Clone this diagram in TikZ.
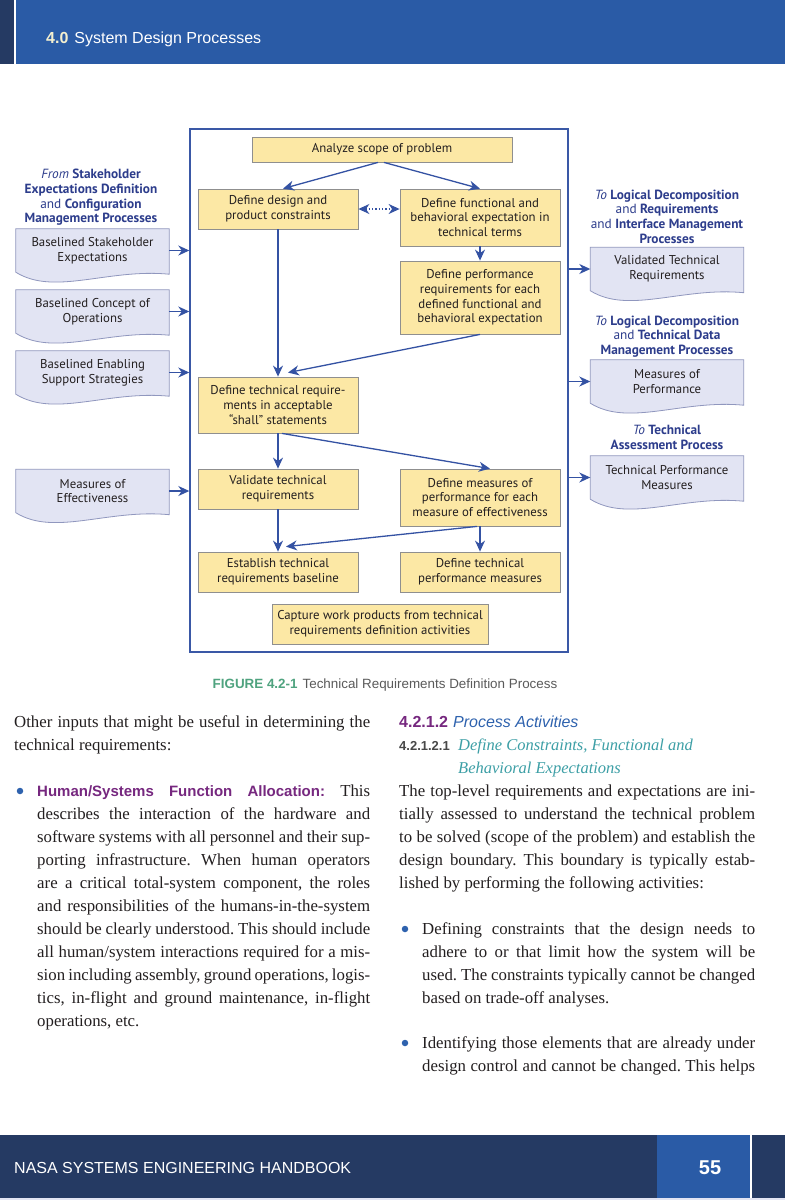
\documentclass[tikz,border=0pt]{standalone}
\usepackage{fontspec}
\setmainfont{Liberation Serif}
\setsansfont{Liberation Sans}
\newfontfamily\figfont{PT Sans}
\usetikzlibrary{arrows.meta,calc,positioning,backgrounds}
\definecolor{navy}{HTML}{253A63}
\definecolor{nasablue}{HTML}{2A5BA6}
\definecolor{boxfill}{HTML}{FCE8A5}
\definecolor{boxline}{HTML}{8F8F8F}
\definecolor{docfill}{HTML}{E2E4F3}
\definecolor{docline}{HTML}{9097BE}
\definecolor{flowblue}{HTML}{3452A3}
\definecolor{framecol}{HTML}{3A58A6}
\definecolor{headblue}{HTML}{2D3D8C}
\definecolor{purp}{HTML}{76287F}
\definecolor{secblue}{HTML}{2E62AE}
\definecolor{teal}{HTML}{3D9FA6}
\definecolor{capgreen}{HTML}{4FA37F}
\definecolor{capgrey}{HTML}{5A5A5A}
\definecolor{bodytext}{HTML}{231F20}
\newcommand{\docwave}[1]{\begin{scope}[on background layer]
\draw[fill=docfill,draw=docline,line width=0.8pt] (#1.north west) -- (#1.north east) -- ([yshift=-2pt]#1.south east)
.. controls ($(#1.south west)!0.6!(#1.south east)+(0,-4)$) and ($(#1.south west)!0.25!(#1.south east)+(0,24)$) .. (#1.south west) -- cycle;
\end{scope}}
\newcommand{\jl}[2]{\makebox[#1pt][s]{#2}}
\newcommand{\hsans}[1]{{\sffamily\bfseries\color{purp}\fontsize{15}{18}\selectfont #1}}
\frenchspacing

\begin{document}
\begin{tikzpicture}[x=1pt,y=-1pt,
procbox/.style={draw=boxline,fill=boxfill,line width=0.8pt,align=center,inner sep=0pt,text=bodytext,font=\figfont\fontsize{12.8}{14.7}\selectfont},
docbox/.style={align=center,inner sep=0pt,minimum width=153pt,minimum height=43pt,text=bodytext,font=\figfont\fontsize{12.8}{14.7}\selectfont},
srchead/.style={align=center,inner sep=0pt,text=headblue,font=\figfont\bfseries\fontsize{13.3}{14.6}\selectfont},
flow/.style={draw=flowblue,line width=1.3pt,-{Stealth[length=11pt,width=10pt,inset=3.5pt]}},
bodyline/.style={anchor=base west,inner sep=0pt,text=bodytext,font=\fontsize{16.8}{23}\selectfont},
bullet/.style={circle,fill=secblue,inner sep=0pt,minimum size=6.5pt}]
\useasboundingbox (0,0) rectangle (785,1200);
\begin{scope}[on background layer]
\fill[white] (0,0) rectangle (785,1200);
\end{scope}

% header and footer bars
\fill[navy] (0,0) rectangle (14,64);
\fill[nasablue] (16,0) rectangle (785,64);
\node[anchor=base west,inner sep=0pt,font=\sffamily\fontsize{16}{19}\selectfont,text=white] (hdr) at (46,43)
{{\bfseries\color[HTML]{F3EFCF}4.0}\hspace{6pt}System Design Processes};
\fill[navy] (0,1135) rectangle (785,1198);
\fill[nasablue] (657,1135) rectangle (750,1198);
\fill[white] (750,1135) rectangle (752,1198);
\fill[docfill] (0,1198) rectangle (785,1200);
\node[anchor=base west,inner sep=0pt,font=\sffamily\fontsize{16}{19}\selectfont,text=white] (book) at (14,1173)
{NASA SYSTEMS ENGINEERING HANDBOOK};
\node[anchor=base,inner sep=0pt,font=\sffamily\bfseries\fontsize{20}{24}\selectfont,text=white] (pagenum) at (710,1174) {55};

% figure
\node[draw=framecol,line width=1.4pt,minimum width=378pt,minimum height=523pt,inner sep=0pt] (frame) at (379,390.5) {};

\node[procbox,minimum width=260pt,minimum height=25pt] (scope) at (382,149.5) {Analyze scope of problem};
\node[procbox,minimum width=160pt,minimum height=40pt] (design) at (278,209) {Define design and\\product constraints};
\node[procbox,minimum width=160pt,minimum height=57pt] (func) at (480,217.5) {Define functional and\\behavioral expectation in\\technical terms};
\node[procbox,minimum width=160pt,minimum height=73pt] (perf) at (480,297.5) {Define performance\\requirements for each\\defined functional and\\behavioral expectation};
\node[procbox,minimum width=160pt,minimum height=56pt] (shall) at (278,405) {Define technical require-\\ments in acceptable\\“shall” statements};
\node[procbox,minimum width=160pt,minimum height=40pt] (valid) at (278,489) {Validate technical\\requirements};
\node[procbox,minimum width=160pt,minimum height=57pt] (mop) at (480,497.5) {Define measures of\\performance for each\\measure of effectiveness};
\node[procbox,minimum width=160pt,minimum height=40pt] (base) at (278,572) {Establish technical\\requirements baseline};
\node[procbox,minimum width=160pt,minimum height=40pt] (tpm) at (480,572) {Define technical\\performance measures};
\node[procbox,minimum width=216pt,minimum height=40pt] (capture) at (380,624) {Capture work products from technical\\requirements definition activities};

\draw[flow] ([xshift=-4pt]scope.south) -- ([xshift=5pt]design.north);
\draw[flow] ([xshift=2pt]scope.south) -- (func.north);
\draw[flow,dotted,{Stealth[length=11pt,width=10pt,inset=3.5pt]}-{Stealth[length=11pt,width=10pt,inset=3.5pt]}] (design.east) -- (design.east -| func.west);
\draw[flow] (func.south) -- (perf.north);
\draw[flow] (design.south) -- (shall.north);
\draw[flow] (perf.south) -- ([xshift=10pt,yshift=4pt]shall.north);
\draw[flow] (shall.south) -- (valid.north);
\draw[flow] ([xshift=4pt]shall.south) -- ([xshift=10pt]mop.north);
\draw[flow] (valid.south) -- (base.north);
\draw[flow] ([xshift=-3pt]mop.south) -- ([xshift=8pt,yshift=5pt]base.north);
\draw[flow] (mop.south) -- (tpm.north);

% inputs
\node[srchead] (fromhd) at (91,197.5) {{\mdseries\itshape From} Stakeholder\\Expectations Definition\\{\mdseries and} Configuration\\Management Processes};
\node[docbox] (stake) at (92.5,250.5) {Baselined Stakeholder\\Expectations};
\node[docbox] (conops) at (92.5,311.5) {Baselined Concept of\\Operations};
\node[docbox] (enable) at (92.5,372.5) {Baselined Enabling\\Support Strategies};
\node[docbox] (moe) at (92.5,491) {Measures of\\Effectiveness};
\foreach \d in {stake,conops,enable,moe}{
\docwave{\d}
\draw[flow] (\d.east) -- (\d.east -| frame.west);
}

% outputs
\node[srchead] (tohdA) at (667,216.5) {{\mdseries\itshape To} Logical Decomposition\\{\mdseries and} Requirements\\{\mdseries and} Interface Management\\Processes};
\node[srchead] (tohdB) at (667,336.5) {{\mdseries\itshape To} Logical Decomposition\\{\mdseries and} Technical Data\\Management Processes};
\node[srchead] (tohdC) at (667,437.5) {{\mdseries\itshape To} Technical\\Assessment Process};
\node[docbox] (vtr) at (667,269) {Validated Technical\\Requirements};
\node[docbox] (mopdoc) at (667,381.5) {Measures of\\Performance};
\node[docbox] (tpmdoc) at (667,477.5) {Technical Performance\\Measures};
\foreach \d in {vtr,mopdoc,tpmdoc}{
\docwave{\d}
\draw[flow] (frame.east |- \d.west) -- (\d.west);
}

\node[anchor=base,inner sep=0pt,font=\sffamily\fontsize{13.4}{16}\selectfont,text=capgrey] (caption) at (385,688)
{{\bfseries\color{capgreen}FIGURE 4.2-1}\hspace{5pt}Technical Requirements Definition Process};

% left column
\node[bodyline] (pa1) at (14,727) {\jl{356}{Other inputs that might be useful in determining the}};
\node[bodyline] (pa2) at (14,750) {technical requirements:};
\node[bullet] (dota) at (20,791) {};
\node[bodyline] (ba1) at (37,796) {\jl{333}{\hsans{Human/Systems Function Allocation:} This}};
\node[bodyline] (ba2) at (37,819) {\jl{333}{describes the interaction of the hardware and}};
\node[bodyline] (ba3) at (37,842) {\jl{333}{software systems with all personnel and their sup-}};
\node[bodyline] (ba4) at (37,865) {\jl{333}{porting infrastructure. When human operators}};
\node[bodyline] (ba5) at (37,888) {\jl{333}{are a critical total-system component, the roles}};
\node[bodyline] (ba6) at (37,911) {\jl{333}{and responsibilities of the humans-in-the-system}};
\node[bodyline] (ba7) at (37,934) {\jl{333}{should be clearly understood. This should include}};
\node[bodyline] (ba8) at (37,957) {\jl{333}{all human/system interactions required for a mis-}};
\node[bodyline] (ba9) at (37,980) {\jl{333}{sion including assembly, ground operations, logis-}};
\node[bodyline] (ba10) at (37,1003) {\jl{333}{tics, in-flight and ground maintenance, in-flight}};
\node[bodyline] (ba11) at (37,1026) {operations, etc.};

% right column
\node[bodyline,font=\sffamily\fontsize{16}{19}\selectfont] (sec) at (399,727)
{{\bfseries\color{purp}4.2.1.2}\hspace{5pt}{\itshape\color{secblue}Process Activities}};
\node[bodyline,font=\sffamily\bfseries\fontsize{13}{16}\selectfont,text=capgrey!80!black] (subsec) at (399,750) {4.2.1.2.1};
\node[bodyline,font=\itshape\fontsize{16.5}{23}\selectfont,text=teal] (subA) at (458,750) {Define Constraints, Functional and};
\node[bodyline,font=\itshape\fontsize{16.5}{23}\selectfont,text=teal] (subB) at (458,773) {Behavioral Expectations};
\node[bodyline] (pb1) at (399,796) {\jl{356}{The top-level requirements and expectations are ini-}};
\node[bodyline] (pb2) at (399,819) {\jl{356}{tially assessed to understand the technical problem}};
\node[bodyline] (pb3) at (399,842) {\jl{356}{to be solved (scope of the problem) and establish the}};
\node[bodyline] (pb4) at (399,865) {\jl{356}{design boundary. This boundary is typically estab-}};
\node[bodyline] (pb5) at (399,888) {lished by performing the following activities:};
\node[bullet] (dotb) at (405,929) {};
\node[bodyline] (bb1) at (422,934) {\jl{333}{Defining constraints that the design needs to}};
\node[bodyline] (bb2) at (422,957) {\jl{333}{adhere to or that limit how the system will be}};
\node[bodyline] (bb3) at (422,980) {\jl{333}{used. The constraints typically cannot be changed}};
\node[bodyline] (bb4) at (422,1003) {based on trade-off analyses.};
\node[bullet] (dotc) at (405,1043) {};
\node[bodyline] (bc1) at (422,1048) {\jl{333}{Identifying those elements that are already under}};
\node[bodyline] (bc2) at (422,1071) {\jl{333}{design control and cannot be changed. This helps}};
\end{tikzpicture}
\end{document}
